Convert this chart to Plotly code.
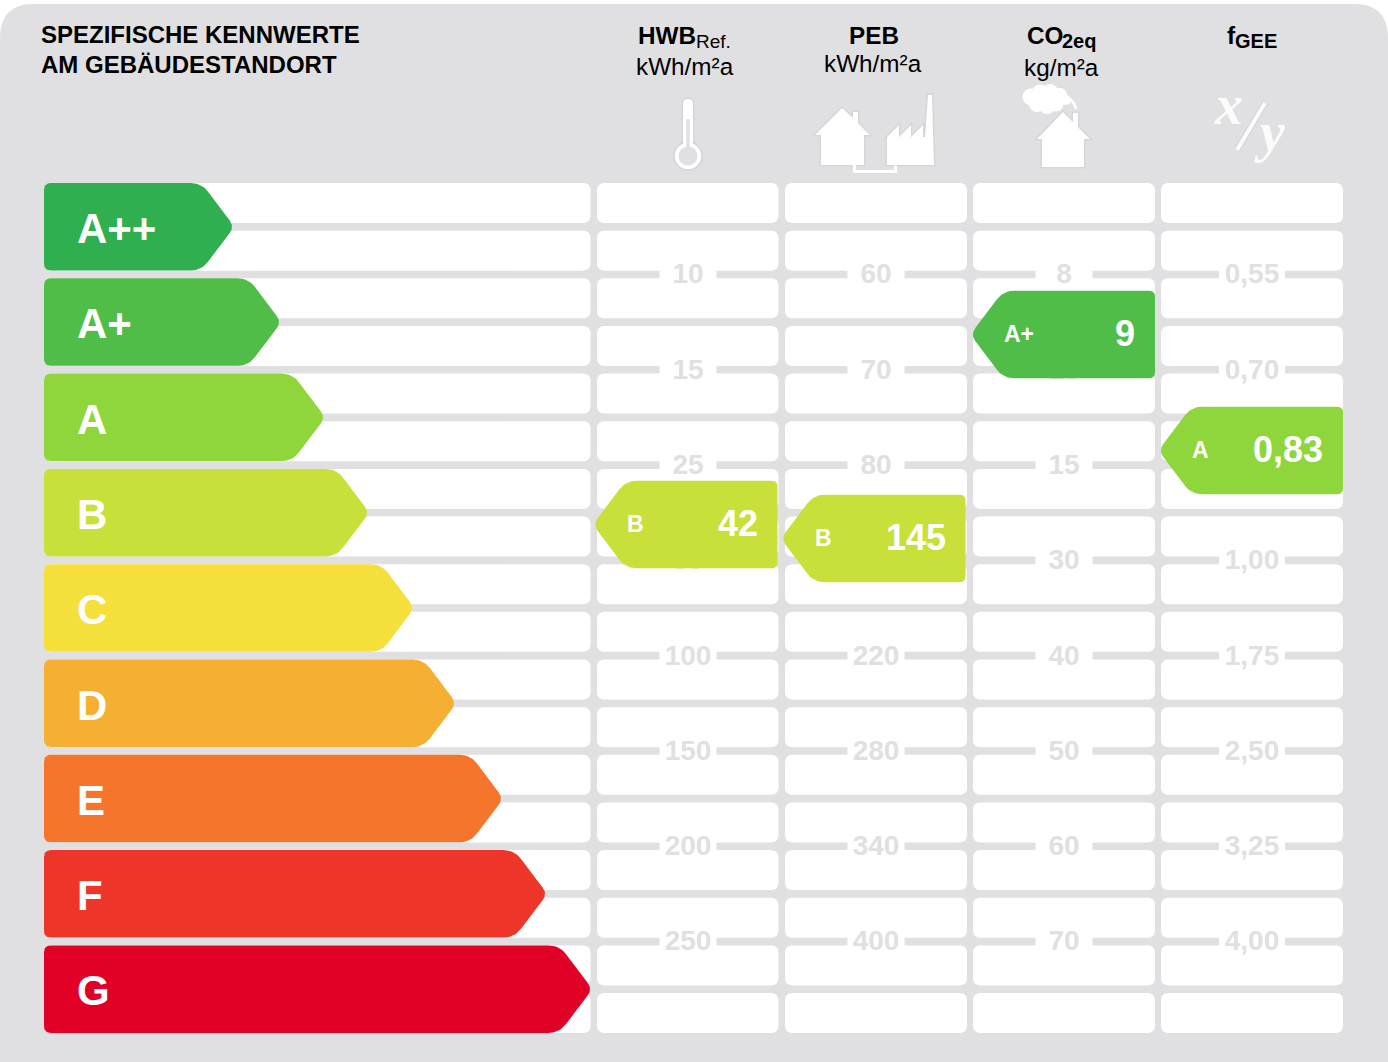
import math
import plotly.graph_objects as go

# ---------- data ----------
class_labels = ["A++", "A+", "A", "B", "C", "D", "E", "F", "G"]
class_lengths = [188, 235, 279, 323, 368, 410, 457, 501, 546]
class_colors = ["#2FAF50", "#50BD48", "#8ED63C", "#C9DF3A", "#F5DF3B",
                "#F5AF33", "#F5752C", "#EE3529", "#E10026"]

# Empty strings: the scale label is fully covered by a result tag in the picture.
hwb_ticks = ["10", "15", "25", "50", "100", "150", "200", "250"]
peb_ticks = ["60", "70", "80", "", "220", "280", "340", "400"]
co2_ticks = ["8", "10", "15", "30", "40", "50", "60", "70"]
fgee_ticks = ["0,55", "0,70", "", "1,00", "1,75", "2,50", "3,25", "4,00"]

result_values = ["42", "145", "9", "0,83"]
result_classes = ["B", "B", "A+", "A"]
result_colors = ["#C9DF3A", "#C9DF3A", "#50BD48", "#8ED63C"]
result_tag_centers = [524.5, 538.5, 334.5, 450.5]
result_tag_right = [777.5, 965.5, 1155, 1343]

# ---------- layout constants ----------
W, H = 1388, 1062
BG = "#E0E0E2"
SHADOW = "rgba(150,150,155,0.12)"
ROW_TOP, ROW_H, ROW_PITCH, N_ROWS = 183, 40, 47.65, 18
COLS = [(44, 590.5), (597, 778.5), (785, 967), (973, 1155), (1161, 1343)]
COL_CENTERS = [688, 876, 1064, 1252]
TAG_W, TAG_H = 182, 87.5
SLOPE_W = 33
FONT = "Liberation Sans"


def rounded_poly(vertices, radii, n=10):
    xs, ys = [], []
    m = len(vertices)
    for i in range(m):
        cx, cy = vertices[i]
        px, py = vertices[i - 1]
        qx, qy = vertices[(i + 1) % m]
        r = radii[i]
        d1 = math.hypot(px - cx, py - cy)
        d2 = math.hypot(qx - cx, qy - cy)
        ax, ay = cx + (px - cx) * r / d1, cy + (py - cy) * r / d1
        bx, by = cx + (qx - cx) * r / d2, cy + (qy - cy) * r / d2
        for k in range(n + 1):
            t = k / n
            xs.append((1 - t) ** 2 * ax + 2 * t * (1 - t) * cx + t ** 2 * bx)
            ys.append((1 - t) ** 2 * ay + 2 * t * (1 - t) * cy + t ** 2 * by)
    xs.append(xs[0])
    ys.append(ys[0])
    return xs, ys


def poly_path(vertices, radii):
    xs, ys = rounded_poly(vertices, radii)
    return "M" + " L".join(f"{x:.2f},{y:.2f}" for x, y in zip(xs, ys)) + " Z"


def rect_path(x0, y0, x1, y1, r):
    return poly_path([(x0, y0), (x1, y0), (x1, y1), (x0, y1)], [r] * 4)


fig = go.Figure()
shapes = []
annotations = []


def add_shape_path(path, color=None, line=None):
    shapes.append(dict(type="path", path=path, fillcolor=color or "rgba(0,0,0,0)",
                       line=dict(width=line[1], color=line[0]) if line else dict(width=0),
                       layer="below", xref="x", yref="y"))


def add_rect(x0, y0, x1, y1, color):
    add_shape_path(f"M{x0},{y0} L{x1},{y0} L{x1},{y1} L{x0},{y1} Z", color)


def add_circle(cx, cy, r, color):
    shapes.append(dict(type="circle", x0=cx - r, x1=cx + r, y0=cy - r, y1=cy + r,
                       fillcolor=color, line=dict(width=0), layer="below",
                       xref="x", yref="y"))


def add_icon(path, color="#FFFFFF"):
    # soft halo first, then the white glyph
    add_shape_path(path, SHADOW, (SHADOW, 3))
    add_shape_path(path, color)


def text(x, baseline, s, size, anchor="left", color="#000000", bold=False,
         family=FONT, italic=False):
    if bold:
        s = f"<b>{s}</b>"
    if italic:
        s = f"<i>{s}</i>"
    annotations.append(dict(x=x, y=baseline - 0.35 * size, text=s, xref="x", yref="y",
                            xanchor=anchor, yanchor="middle", showarrow=False,
                            borderpad=0, borderwidth=0,
                            font=dict(family=family, size=size, color=color)))


# panel
add_shape_path(rect_path(0, 4, W, H + 40, 34), BG)

# white cells
for x0, x1 in COLS:
    for i in range(N_ROWS):
        y0 = ROW_TOP + i * ROW_PITCH
        add_shape_path(rect_path(x0, y0, x1, y0 + ROW_H, 8), "#FFFFFF")

# white patches behind tick labels
tick_y = [ROW_TOP + 2 * ROW_PITCH - 3.8 + 2 * k * ROW_PITCH for k in range(8)]
for c, cx in enumerate(COL_CENTERS):
    half = 33 if c == 3 else 28.5
    for y in tick_y:
        add_rect(cx - half, y - 6, cx + half, y + 6, "#FFFFFF")

# tick labels, drawn under the result tags
label_y = [y + 1.8 for y in tick_y]
for cx, ticks in zip(COL_CENTERS, [hwb_ticks, peb_ticks, co2_ticks, fgee_ticks]):
    fig.add_trace(go.Scatter(x=[cx] * len(ticks), y=label_y, text=ticks, mode="text",
                             textposition="middle center", hoverinfo="skip",
                             showlegend=False,
                             textfont=dict(family=FONT, size=28, color=BG, weight="bold")))

# efficiency class bars
for i, (lab, length, col) in enumerate(zip(class_labels, class_lengths, class_colors)):
    top = ROW_TOP + i * 2 * ROW_PITCH
    bot = top + 87.5
    tip = 44 + length + 2.4
    verts = [(44, top), (tip - SLOPE_W, top), (tip, (top + bot) / 2),
             (tip - SLOPE_W, bot), (44, bot)]
    xs, ys = rounded_poly(verts, [7, 11, 8, 11, 7])
    fig.add_trace(go.Scatter(x=xs, y=ys, mode="lines", fill="toself", fillcolor=col,
                             line=dict(width=0, color=col), hoverinfo="skip",
                             showlegend=False))
    text(77, (top + bot) / 2 + 16.5, lab, 42, color="#FFFFFF", bold=True)

# result tags
for val, cls, col, cy, right in zip(result_values, result_classes, result_colors,
                                    result_tag_centers, result_tag_right):
    left = right - TAG_W - 2.6
    top, bot = cy - TAG_H / 2, cy + TAG_H / 2
    verts = [(right, top), (right, bot), (left + SLOPE_W, bot), (left, cy),
             (left + SLOPE_W, top)]
    xs, ys = rounded_poly(verts, [6, 6, 11, 8, 11])
    fig.add_trace(go.Scatter(x=xs, y=ys, mode="lines", fill="toself", fillcolor=col,
                             line=dict(width=0, color=col), hoverinfo="skip",
                             showlegend=False))
    text(right - 20, cy + 12, val, 36, anchor="right", color="#FFFFFF", bold=True)
    text(right - TAG_W + 31, cy + 8, cls, 23, color="#FFFFFF", bold=True)

# title and column headers
text(41, 43, "SPEZIFISCHE KENNWERTE", 24, bold=True)
text(41, 73, "AM GEBÄUDESTANDORT", 24, bold=True)

text(638, 44, "HWB", 24.3, bold=True)
text(696, 48, "Ref.", 19)
text(685, 75, "kWh/m²a", 24.3, anchor="center")
text(874, 44, "PEB", 24.3, anchor="center", bold=True)
text(873, 71.7, "kWh/m²a", 24.3, anchor="center")
text(1027, 44, "CO", 24.3, bold=True)
text(1062, 48, "2eq", 20, bold=True)
text(1061, 76, "kg/m²a", 24.3, anchor="center")
text(1227, 43.5, "f", 24.3, bold=True)
text(1235, 48, "GEE", 20, bold=True)

# thermometer icon
add_circle(688, 156, 15, SHADOW)
add_icon(rect_path(683, 99, 693, 150, 4.9))
add_circle(688, 156, 13.2, "#FFFFFF")
add_circle(688, 156, 9.5, BG)
add_rect(686.3, 119, 689.6, 150, BG)

# house + factory icon
add_icon("M842,108 L853,118 L853,112 L858,112 L858,123 L870,135 L864,135 L864,165 "
         "L821,165 L821,135 L815,135 Z")
add_shape_path("M854.5,165 L854.5,171.5 L895.5,171.5 L895.5,165", None, ("#FFFFFF", 3))
add_icon("M887,137 L899,125 L899,137 L911,125 L911,137 L923,125 L923,137 L925,137 "
         "L928,95 L932,95 L934,165 L887,165 Z")

# CO2 house icon
add_icon("M1063,112 L1073,122 L1073,113 L1078,113 L1078,127 L1090,139 L1084,139 "
         "L1084,167 L1042,167 L1042,139 L1037,139 Z")
for cx, cy, r in [(1031, 97, 8.5), (1040, 93, 8.5), (1050, 92, 8), (1060, 95, 7),
                  (1037, 104, 8), (1047, 106, 8), (1056, 104, 7.5), (1066, 100, 5),
                  (1048, 98, 9)]:
    add_circle(cx, cy, r, "#FFFFFF")
add_shape_path("M1066,97 Q1074,100 1076,109", None, ("#FFFFFF", 2.5))

# x/y icon
text(1228, 124.5, "x", 56, anchor="center", color="#FBFBFB", bold=True,
     family="Liberation Serif", italic=True)
text(1270, 152, "y", 56, anchor="center", color="#FBFBFB", bold=True,
     family="Liberation Serif", italic=True)
add_shape_path("M1265,103 L1237,150", None, (SHADOW, 6.5))
add_shape_path("M1265,103 L1237,150", None, ("#FBFBFB", 4))

fig.update_layout(
    width=W, height=H, margin=dict(l=0, r=0, t=0, b=0),
    paper_bgcolor="#FFFFFF", plot_bgcolor="#FFFFFF",
    showlegend=False, shapes=shapes, annotations=annotations,
    xaxis=dict(range=[0, W], visible=False, fixedrange=True),
    yaxis=dict(range=[H, 0], visible=False, fixedrange=True),
)

fig.write_html("out.html", config={"displayModeBar": False},
               post_script="document.body.style.margin='0';document.body.style.overflow='hidden';")
